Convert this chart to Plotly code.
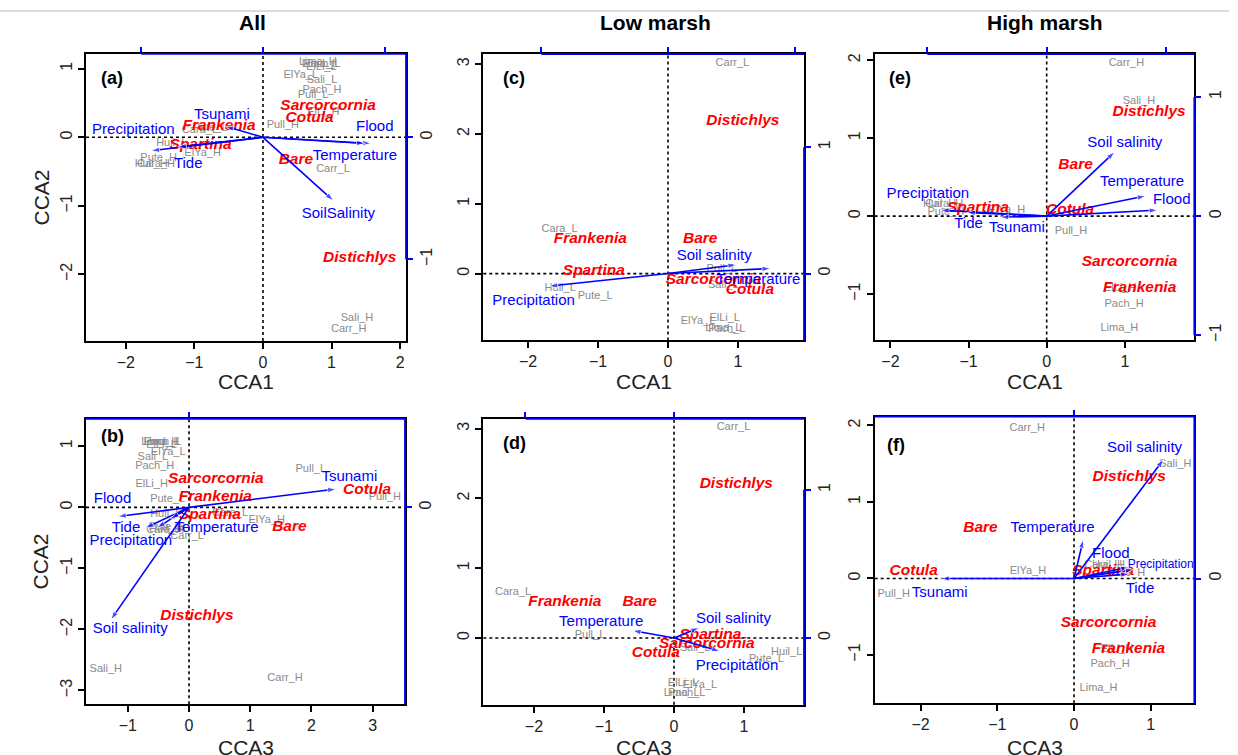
import plotly.graph_objects as go

W, H = 1238, 755
FONT = "Liberation Sans, Arial, Helvetica, sans-serif"
RED = "#FF0000"
BLUE = "#0000FF"
GRAY = "#8A8A8A"

# ---------------- (a) All : CCA1 x CCA2 ----------------
a_site_names = ["Lima_L", "Pach_L", "Lima_H", "ElLi_L", "ElYa_L", "Sali_L", "Pach_H", "Pull_L", "ElLi_H", "Pull_H",
                "Carr_L", "Sali_H", "Carr_H", "Huil_H", "Cara_H", "Pute_H", "ElYa_H", "Huil_L", "Pute_L", "Cara_L"]
a_site_x = [0.83, 0.86, 0.80, 0.85, 0.55, 0.86, 0.86, 0.73, 0.88, 0.29, 1.02, 1.37, 1.25, -1.63, -1.56, -1.52, -0.88, -1.33, -0.77, -0.92]
a_site_y = [1.07, 1.07, 1.09, 1.02, 0.90, 0.83, 0.68, 0.62, 0.36, 0.17, -0.47, -2.64, -2.80, -0.40, -0.40, -0.31, -0.23, -0.09, 0.13, 0.10]
a_sp_names = ["Sarcorcornia", "Cotula", "Frankenia", "Spartina", "Bare", "Distichlys"]
a_sp_x = [0.95, 0.68, -0.64, -0.91, 0.48, 1.41]
a_sp_y = [0.45, 0.28, 0.16, -0.12, -0.34, -1.77]
a_env_names = ["Precipitation", "Tide", "Tsunami", "Flood", "Temperature", "SoilSalinity"]
a_env_x = [-0.92, -0.70, -0.31, 0.89, 0.84, 0.58]
a_env_y = [-0.11, -0.08, 0.09, -0.05, -0.05, -0.52]
a_env_lx = [-1.89, -1.09, -0.60, 1.63, 1.34, 1.10]
a_env_ly = [0.11, -0.39, 0.32, 0.15, -0.27, -1.13]

# ---------------- (b) All : CCA3 x CCA2 ----------------
b_site_names = ["Lima_L", "Pach_L", "Lima_H", "ElLi_L", "ElYa_L", "Sali_L", "Pach_H", "ElLi_H", "Pute_L", "Pull_L",
                "Pull_H", "Huil_L", "Cara_L", "ElYa_H", "Pute_H", "Huil_H", "Cara_H", "Carr_L", "Sali_H", "Carr_H"]
b_site_x = [-0.45, -0.43, -0.47, -0.45, -0.34, -0.59, -0.56, -0.61, -0.35, 1.99, 3.20, -0.38, 0.67, 1.27, -0.36, -0.38, -0.39, -0.03, -1.36, 1.57]
b_site_y = [1.06, 1.06, 1.07, 1.02, 0.90, 0.82, 0.68, 0.37, 0.14, 0.63, 0.17, -0.11, -0.09, -0.21, -0.33, -0.36, -0.38, -0.47, -2.65, -2.80]
b_sp_names = ["Sarcorcornia", "Frankenia", "Spartina", "Cotula", "Bare", "Distichlys"]
b_sp_x = [0.44, 0.43, 0.34, 2.91, 1.64, 0.13]
b_sp_y = [0.46, 0.17, -0.12, 0.28, -0.33, -1.78]
b_env_names = ["Tsunami", "Flood", "Tide", "Precipitation", "Temperature", "Soil salinity"]
b_env_x = [0.64, -0.31, -0.19, -0.14, -0.08, -0.34]
b_env_y = [0.08, -0.04, -0.09, -0.09, -0.05, -0.49]
b_env_lx = [2.62, -1.25, -1.03, -0.95, 0.45, -0.96]
b_env_ly = [0.49, 0.14, -0.34, -0.56, -0.34, -2.00]

# ---------------- (c) Low marsh : CCA1 x CCA2 ----------------
c_site_names = ["Carr_L", "Cara_L", "Huil_L", "Pute_L", "Pull_L", "Sali_L", "ElYa_L", "ElLi_L", "Lima_L", "Pach_L"]
c_site_x = [0.92, -1.55, -1.54, -1.04, 0.77, 0.79, 0.43, 0.81, 0.79, 0.84]
c_site_y = [3.01, 0.64, -0.21, -0.32, 0.06, -0.17, -0.68, -0.64, -0.79, -0.80]
c_sp_names = ["Distichlys", "Frankenia", "Bare", "Spartina", "Sarcorcornia", "Cotula"]
c_sp_x = [1.07, -1.11, 0.46, -1.06, 0.65, 1.17]
c_sp_y = [2.19, 0.50, 0.49, 0.04, -0.10, -0.23]
c_env_names = ["Soil salinity", "Temperature", "Precipitation"]
c_env_x = [0.54, 0.81, -0.94]
c_env_y = [0.07, 0.04, -0.10]
c_env_lx = [0.66, 1.29, -1.92]
c_env_ly = [0.25, -0.09, -0.39]

# ---------------- (d) Low marsh : CCA3 x CCA2 ----------------
d_site_names = ["Carr_L", "Cara_L", "Pull_L", "Sali_L", "Huil_L", "Pute_L", "ElLi_L", "ElYa_L", "Lima_L", "Pach_L"]
d_site_x = [0.85, -2.30, -1.20, 0.30, 1.61, 1.32, 0.13, 0.37, 0.11, 0.18]
d_site_y = [3.02, 0.65, 0.04, -0.15, -0.21, -0.30, -0.65, -0.68, -0.79, -0.79]
d_sp_names = ["Distichlys", "Frankenia", "Bare", "Spartina", "Sarcorcornia", "Cotula"]
d_sp_x = [0.89, -1.56, -0.49, 0.52, 0.47, -0.26]
d_sp_y = [2.20, 0.51, 0.51, 0.04, -0.09, -0.22]
d_env_names = ["Soil salinity", "Temperature", "Precipitation"]
d_env_x = [0.17, -0.28, 0.31]
d_env_y = [0.07, 0.05, -0.09]
d_env_lx = [0.85, -1.04, 0.90]
d_env_ly = [0.27, 0.22, -0.40]

# ---------------- (e) High marsh : CCA1 x CCA2 ----------------
e_site_names = ["Carr_H", "Sali_H", "Huil_H", "Cara_H", "Pute_H", "ElYa_H", "Pull_H", "ElLi_H", "Pach_H", "Lima_H"]
e_site_x = [1.02, 1.18, -1.37, -1.31, -1.29, -0.51, 0.31, 0.94, 0.99, 0.93]
e_site_y = [1.96, 1.48, 0.15, 0.15, 0.05, 0.08, -0.20, -0.93, -1.13, -1.44]
e_sp_names = ["Distichlys", "Bare", "Spartina", "Cotula", "Sarcorcornia", "Frankenia"]
e_sp_x = [1.31, 0.37, -0.88, 0.30, 1.06, 1.19]
e_sp_y = [1.33, 0.66, 0.10, 0.08, -0.59, -0.92]
e_env_names = ["Soil salinity", "Temperature", "Flood", "Precipitation", "Tide", "Tsunami"]
e_env_x = [0.57, 0.83, 0.93, -0.89, -0.67, -0.39]
e_env_y = [0.54, 0.17, 0.05, 0.05, 0.03, -0.01]
e_env_lx = [1.00, 1.22, 1.60, -1.52, -1.00, -0.38]
e_env_ly = [0.93, 0.44, 0.20, 0.28, -0.10, -0.15]

# ---------------- (f) High marsh : CCA3 x CCA2 ----------------
f_site_names = ["Carr_H", "Sali_H", "ElYa_H", "Cara_H", "Huil_H", "Pute_H", "Pull_H", "ElLi_H", "Pach_H", "Lima_H"]
f_site_x = [-0.61, 1.32, -0.60, 0.38, 0.45, 0.69, -2.35, 0.56, 0.47, 0.32]
f_site_y = [1.97, 1.49, 0.10, 0.17, 0.17, 0.07, -0.20, -0.93, -1.12, -1.43]
f_sp_names = ["Distichlys", "Bare", "Cotula", "Spartina", "Sarcorcornia", "Frankenia"]
f_sp_x = [0.72, -1.22, -2.09, 0.38, 0.45, 0.71]
f_sp_y = [1.33, 0.66, 0.09, 0.10, -0.59, -0.92]
f_env_names = ["Soil salinity", "Temperature", "Flood", "Precipitation", "Tide", "Tsunami"]
f_env_x = [0.39, 0.04, 0.24, 0.26, 0.24, -0.58]
f_env_y = [0.52, 0.17, 0.05, 0.04, 0.02, 0.00]
f_env_lx = [0.92, -0.28, 0.48, 1.13, 0.86, -1.75]
f_env_ly = [1.70, 0.65, 0.32, 0.17, -0.14, -0.19]

column_titles = ["All", "Low marsh", "High marsh"]
biplot_ticks = [-1, 0, 1]

# ---------------- layout of panels (pixel boxes) ----------------
panels = [
    dict(tag="(a)", box=(86, 53, 406, 341), xr=(-2.580, 2.085), yr=(-2.974, 1.218),
         x2r=(-1.455, 1.176), y2r=(-1.670, 0.684), top=(-1, None), right=(None, -1),
         xlab="CCA1", ylab="CCA2", tagpos=(112, 77),
         sites=(a_site_names, a_site_x, a_site_y), species=(a_sp_names, a_sp_x, a_sp_y),
         env=(a_env_names, a_env_x, a_env_y, a_env_lx, a_env_ly)),
    dict(tag="(b)", box=(86, 419, 405, 705), xr=(-1.683, 3.529), yr=(-3.224, 1.449),
         x2r=(-0.448, 0.939), y2r=(-0.858, 0.386), top=(None, None), right=(None, None),
         xlab="CCA3", ylab="CCA2", tagpos=(112, 436),
         sites=(b_site_names, b_site_x, b_site_y), species=(b_sp_names, b_sp_x, b_sp_y),
         env=(b_env_names, b_env_x, b_env_y, b_env_lx, b_env_ly)),
    dict(tag="(c)", box=(483.3, 53.3, 804, 340.3), xr=(-2.639, 1.943), yr=(-0.957, 3.143),
         x2r=(-1.458, 1.073), y2r=(-0.529, 1.736), top=(-1, None), right=(1, None),
         xlab="CCA1", ylab=None, tagpos=(514, 77),
         sites=(c_site_names, c_site_x, c_site_y), species=(c_sp_names, c_sp_x, c_sp_y),
         env=(c_env_names, c_env_x, c_env_y, c_env_lx, c_env_ly)),
    dict(tag="(d)", box=(483.3, 419, 804, 705.7), xr=(-2.724, 1.857), yr=(-0.957, 3.139),
         x2r=(-1.284, 0.875), y2r=(-0.451, 1.479), top=(-1, None), right=(1, None),
         xlab="CCA3", ylab=None, tagpos=(514, 443),
         sites=(d_site_names, d_site_x, d_site_y), species=(d_sp_names, d_sp_x, d_sp_y),
         env=(d_env_names, d_env_x, d_env_y, d_env_lx, d_env_ly)),
    dict(tag="(e)", box=(874.7, 53.3, 1194.3, 340.3), xr=(-2.201, 1.889), yr=(-1.594, 2.078),
         x2r=(-1.441, 1.236), y2r=(-1.044, 1.360), top=(-1, None), right=(1, -1),
         xlab="CCA1", ylab=None, tagpos=(900, 77),
         sites=(e_site_names, e_site_x, e_site_y), species=(e_sp_names, e_sp_x, e_sp_y),
         env=(e_env_names, e_env_x, e_env_y, e_env_lx, e_env_ly)),
    dict(tag="(f)", box=(874.7, 416.7, 1194.3, 704), xr=(-2.598, 1.568), yr=(-1.630, 2.116),
         x2r=(-0.867, 0.523), y2r=(-0.543, 0.706), top=(None, None), right=(None, None),
         xlab="CCA3", ylab=None, tagpos=(896, 445), small_env=["Precipitation"],
         sites=(f_site_names, f_site_x, f_site_y), species=(f_sp_names, f_sp_x, f_sp_y),
         env=(f_env_names, f_env_x, f_env_y, f_env_lx, f_env_ly)),
]

title_pos = [(252, 22), (655, 22), (1045, 22)]

fig = go.Figure()
shapes = []
annotations = []
layout = {}


def sfx(n):
    return "" if n == 1 else str(n)


for i, p in enumerate(panels, start=1):
    j = i + 6
    L, T, R, B = p["box"]
    xdom = [L / W, R / W]
    ydom = [1 - B / H, 1 - T / H]
    xm, ym = "x" + sfx(i), "y" + sfx(i)
    xs, ys = "x" + sfx(j), "y" + sfx(j)

    axis_common = dict(showgrid=False, zeroline=False, ticks="outside", ticklen=6, tickwidth=1.5,
                       tickfont=dict(family=FONT, size=16, color="#222222"))
    layout["xaxis" + sfx(i)] = dict(domain=xdom, range=list(p["xr"]), anchor=ym, dtick=1, tick0=0,
                                    showline=True, mirror=True, linecolor="black", linewidth=1.8,
                                    tickcolor="black", **axis_common)
    layout["yaxis" + sfx(i)] = dict(domain=ydom, range=list(p["yr"]), anchor=xm, dtick=1, tick0=0,
                                    showline=True, mirror=True, linecolor="black", linewidth=1.8,
                                    tickcolor="black", tickangle=-90, **axis_common)
    layout["xaxis" + sfx(j)] = dict(overlaying=xm, side="top", anchor=ym, range=list(p["x2r"]),
                                    tickmode="array", tickvals=biplot_ticks, showticklabels=False,
                                    showline=False, tickcolor=BLUE, **axis_common)
    layout["yaxis" + sfx(j)] = dict(overlaying=ym, side="right", anchor=xm, range=list(p["y2r"]),
                                    tickmode="array", tickvals=biplot_ticks, showticklabels=True,
                                    showline=False, tickcolor=BLUE, tickangle=-90, **axis_common)

    # dotted zero lines
    shapes.append(dict(type="line", xref=xm, yref=ym + " domain", x0=0, x1=0, y0=0, y1=1,
                       line=dict(color="black", width=1.6, dash="dot"), layer="below"))
    shapes.append(dict(type="line", xref=xm + " domain", yref=ym, x0=0, x1=1, y0=0, y1=0,
                       line=dict(color="black", width=1.6, dash="dot"), layer="below"))

    # blue biplot axis lines (top and right)
    def px_x(v):
        r0, r1 = p["x2r"]
        return L + (v - r0) / (r1 - r0) * (R - L)

    def px_y(v):
        r0, r1 = p["y2r"]
        return B - (v - r0) / (r1 - r0) * (B - T)

    t0, t1 = p["top"]
    xa = L if t0 is None else px_x(t0)
    xb = R if t1 is None else px_x(t1)
    shapes.append(dict(type="line", xref="paper", yref="paper", x0=xa / W, x1=xb / W,
                       y0=1 - T / H, y1=1 - T / H, line=dict(color=BLUE, width=1.8), layer="above"))
    r0_, r1_ = p["right"]
    ya = T if r0_ is None else px_y(r0_)
    yb = B if r1_ is None else px_y(r1_)
    shapes.append(dict(type="line", xref="paper", yref="paper", x0=R / W, x1=R / W,
                       y0=1 - ya / H, y1=1 - yb / H, line=dict(color=BLUE, width=1.8), layer="above"))

    # site labels
    sn, sx, sy = p["sites"]
    fig.add_trace(go.Scatter(x=sx, y=sy, text=sn, mode="text", xaxis=xm, yaxis=ym,
                             textfont=dict(family=FONT, size=11, color=GRAY),
                             cliponaxis=False, hoverinfo="skip", showlegend=False))
    # environmental arrows (biplot scale, secondary axes)
    en, ex, ey, elx, ely = p["env"]
    axx, axy, sizes = [], [], []
    for vx, vy in zip(ex, ey):
        axx += [0, vx, None]
        axy += [0, vy, None]
        sizes += [0, 9, 0]
    fig.add_trace(go.Scatter(x=axx, y=axy, mode="lines+markers", xaxis=xs, yaxis=ys,
                             line=dict(color=BLUE, width=1.6),
                             marker=dict(symbol="arrow", size=sizes, angleref="previous", color=BLUE),
                             hoverinfo="skip", showlegend=False))
    # species labels
    spn, spx, spy = p["species"]
    fig.add_trace(go.Scatter(x=spx, y=spy, text=spn, mode="text", xaxis=xm, yaxis=ym,
                             textfont=dict(family=FONT, size=15.5, color=RED, weight="bold", style="italic"),
                             cliponaxis=False, hoverinfo="skip", showlegend=False))
    # environmental labels
    small = p.get("small_env", [])
    fig.add_trace(go.Scatter(x=elx, y=ely, text=en, mode="text", xaxis=xm, yaxis=ym,
                             textfont=dict(family=FONT, color=BLUE,
                                           size=[12 if n in small else 15 for n in en]),
                             cliponaxis=False, hoverinfo="skip", showlegend=False))

    # panel tag
    tx, ty = p["tagpos"]
    annotations.append(dict(text="<b>" + p["tag"] + "</b>", x=tx / W, y=1 - ty / H, xref="paper", yref="paper",
                            showarrow=False, font=dict(family=FONT, size=18, color="black"),
                            xanchor="center", yanchor="middle"))
    # x axis title
    xt_y = 382 if T < 200 else 748
    annotations.append(dict(text=p["xlab"], x=(L + R) / 2 / W, y=1 - xt_y / H, xref="paper", yref="paper",
                            showarrow=False, font=dict(family=FONT, size=21, color="#222222"),
                            xanchor="center", yanchor="middle"))
    if p["ylab"]:
        annotations.append(dict(text=p["ylab"], x=41 / W, y=1 - (T + B) / 2 / H, xref="paper", yref="paper",
                                showarrow=False, textangle=-90, font=dict(family=FONT, size=21, color="#222222"),
                                xanchor="center", yanchor="middle"))

for t, (tx, ty) in zip(column_titles, title_pos):
    annotations.append(dict(text="<b>" + t + "</b>", x=tx / W, y=1 - ty / H, xref="paper", yref="paper",
                            showarrow=False, font=dict(family=FONT, size=21, color="black"),
                            xanchor="center", yanchor="middle"))

# light frame line of the page
shapes.append(dict(type="line", xref="paper", yref="paper", x0=0, x1=1229 / W, y0=1 - 10 / H, y1=1 - 10 / H,
                   line=dict(color="#DCDCDC", width=2), layer="below"))

fig.update_layout(width=W, height=H, margin=dict(l=0, r=0, t=0, b=0),
                  paper_bgcolor="white", plot_bgcolor="white",
                  shapes=shapes, annotations=annotations, showlegend=False, **layout)

fig.write_html("out.html", config={"displayModeBar": False},
               post_script="document.body.style.margin='0';document.body.style.overflow='hidden';")
